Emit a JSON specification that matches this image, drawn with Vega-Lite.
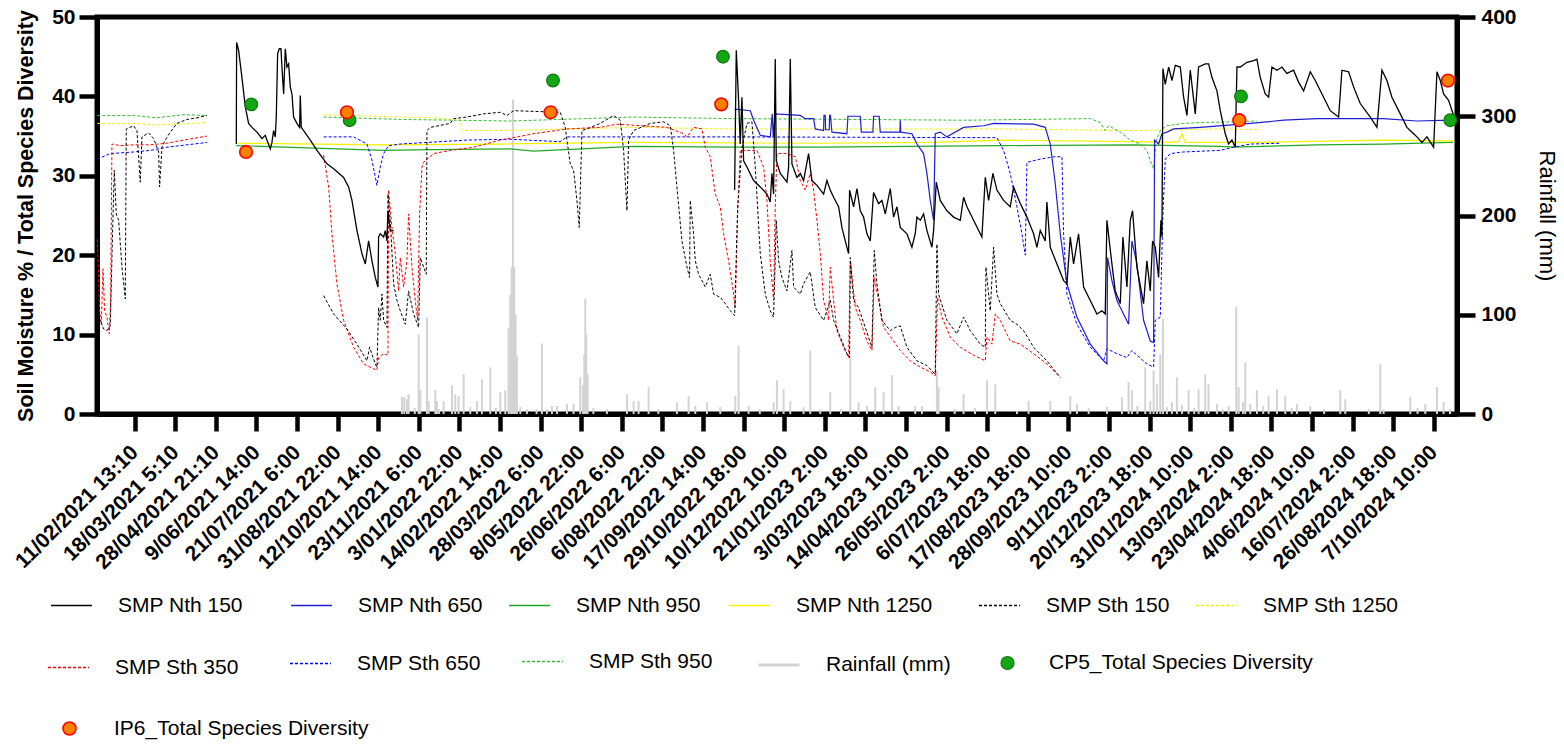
{
  "$schema": "https://vega.github.io/schema/vega-lite/v6.json",
  "width": 1360,
  "height": 397,
  "autosize": "none",
  "padding": {"left": 97, "top": 17, "right": 107, "bottom": 330},
  "background": "white",
  "config": {
    "font": "Liberation Sans",
    "view": {"stroke": "black", "strokeWidth": 5},
    "axis": {"domainColor": "black", "tickColor": "black", "labelColor": "black", "titleColor": "black", "grid": false, "labelFont": "Liberation Sans", "titleFont": "Liberation Sans"},
    "legend": {"labelFont": "Liberation Sans", "labelFontSize": 21, "labelLimit": 500, "labelColor": "black", "padding": 0, "labelOffset": 25, "symbolSize": 1681, "symbolStrokeWidth": 1.5, "title": null}
  },
  "datasets": {
    "nth150": [
      {"g":1,"i":2505,"v":34.0},{"g":1,"i":2513,"v":46.8},{"g":1,"i":2562,"v":45.8},{"g":1,"i":2644,"v":42.4},{"g":1,"i":2726,"v":38.7},{"g":1,"i":2808,"v":36.6},{"g":1,"i":2891,"v":36.1},{"g":1,"i":3014,"v":35.5},{"g":1,"i":3137,"v":34.7},{"g":1,"i":3219,"v":35.1},{"g":1,"i":3260,"v":34.5},{"g":1,"i":3342,"v":33.4},{"g":1,"i":3383,"v":34.2},{"g":1,"i":3424,"v":35.7},{"g":1,"i":3465,"v":34.9},{"g":1,"i":3490,"v":37.4},{"g":1,"i":3523,"v":45.4},{"g":1,"i":3564,"v":46.0},{"g":1,"i":3605,"v":46.0},{"g":1,"i":3629,"v":43.7},{"g":1,"i":3671,"v":40.3},{"g":1,"i":3712,"v":46.0},{"g":1,"i":3753,"v":43.7},{"g":1,"i":3794,"v":44.1},{"g":1,"i":3835,"v":41.2},{"g":1,"i":3876,"v":40.3},{"g":1,"i":3917,"v":37.4},{"g":1,"i":3999,"v":36.6},{"g":1,"i":4065,"v":36.1},{"g":1,"i":4081,"v":40.1},{"g":1,"i":4106,"v":36.1},{"g":1,"i":4163,"v":35.7},{"g":1,"i":4327,"v":34.5},{"g":1,"i":4492,"v":33.2},{"g":1,"i":4738,"v":31.5},{"g":1,"i":4902,"v":30.9},{"g":1,"i":5148,"v":29.8},{"g":1,"i":5271,"v":28.6},{"g":1,"i":5354,"v":26.9},{"g":1,"i":5477,"v":23.1},{"g":1,"i":5600,"v":20.2},{"g":1,"i":5682,"v":18.9},{"g":1,"i":5764,"v":21.8},{"g":1,"i":5846,"v":19.3},{"g":1,"i":5928,"v":17.2},{"g":1,"i":5994,"v":16.0},{"g":1,"i":6010,"v":22.3},{"g":1,"i":6051,"v":22.7},{"g":1,"i":6134,"v":22.3},{"g":1,"i":6175,"v":23.1},{"g":1,"i":6216,"v":21.8},{"g":1,"i":6240,"v":25.6},{"g":1,"i":6298,"v":23.1},{"g":1,"i":6380,"v":23.1},
      {"g":2,"i":14779,"v":28.2},{"g":2,"i":14820,"v":45.8},{"g":2,"i":14877,"v":39.5},{"g":2,"i":14918,"v":34.0},{"g":2,"i":14959,"v":39.9},{"g":2,"i":15000,"v":31.9},{"g":2,"i":15082,"v":31.1},{"g":2,"i":15247,"v":29.4},{"g":2,"i":15411,"v":28.6},{"g":2,"i":15575,"v":27.7},{"g":2,"i":15657,"v":26.7},{"g":2,"i":15698,"v":30.3},{"g":2,"i":15739,"v":27.7},{"g":2,"i":15780,"v":44.7},{"g":2,"i":15805,"v":31.9},{"g":2,"i":15903,"v":30.3},{"g":2,"i":16068,"v":29.2},{"g":2,"i":16109,"v":31.1},{"g":2,"i":16150,"v":44.7},{"g":2,"i":16191,"v":31.5},{"g":2,"i":16314,"v":29.8},{"g":2,"i":16396,"v":30.3},{"g":2,"i":16478,"v":29.4},{"g":2,"i":16601,"v":32.8},{"g":2,"i":16683,"v":29.4},{"g":2,"i":16807,"v":28.8},{"g":2,"i":16971,"v":27.7},{"g":2,"i":17053,"v":29.4},{"g":2,"i":17135,"v":28.2},{"g":2,"i":17217,"v":27.3},{"g":2,"i":17340,"v":26.1},{"g":2,"i":17422,"v":23.5},{"g":2,"i":17504,"v":21.8},{"g":2,"i":17586,"v":20.2},{"g":2,"i":17611,"v":28.2},{"g":2,"i":17710,"v":26.1},{"g":2,"i":17792,"v":28.4},{"g":2,"i":17874,"v":25.6},{"g":2,"i":17956,"v":24.8},{"g":2,"i":18038,"v":22.7},{"g":2,"i":18120,"v":21.8},{"g":2,"i":18202,"v":27.9},{"g":2,"i":18325,"v":26.5},{"g":2,"i":18407,"v":26.9},{"g":2,"i":18490,"v":25.2},{"g":2,"i":18613,"v":28.4},{"g":2,"i":18695,"v":24.8},{"g":2,"i":18777,"v":26.1},{"g":2,"i":18859,"v":23.5},{"g":2,"i":19023,"v":22.7},{"g":2,"i":19146,"v":21.0},{"g":2,"i":19228,"v":22.7},{"g":2,"i":19270,"v":24.8},{"g":2,"i":19352,"v":24.4},{"g":2,"i":19434,"v":25.2},{"g":2,"i":19516,"v":23.1},{"g":2,"i":19639,"v":21.0},{"g":2,"i":19680,"v":23.1},{"g":2,"i":19746,"v":29.2},{"g":2,"i":19844,"v":26.9},{"g":2,"i":20008,"v":25.6},{"g":2,"i":20173,"v":24.8},{"g":2,"i":20337,"v":24.4},{"g":2,"i":20419,"v":27.3},{"g":2,"i":20501,"v":26.1},{"g":2,"i":20665,"v":24.4},{"g":2,"i":20870,"v":22.3},{"g":2,"i":20953,"v":29.8},{"g":2,"i":21035,"v":26.9},{"g":2,"i":21141,"v":30.3},{"g":2,"i":21240,"v":28.2},{"g":2,"i":21404,"v":26.9},{"g":2,"i":21568,"v":26.1},{"g":2,"i":21650,"v":28.6},{"g":2,"i":21815,"v":26.5},{"g":2,"i":21979,"v":24.8},{"g":2,"i":22143,"v":22.7},{"g":2,"i":22225,"v":21.0},{"g":2,"i":22307,"v":23.1},{"g":2,"i":22430,"v":21.8},{"g":2,"i":22471,"v":26.7},{"g":2,"i":22554,"v":21.0},{"g":2,"i":22718,"v":18.9},{"g":2,"i":22882,"v":16.8},{"g":2,"i":22964,"v":16.4},{"g":2,"i":23046,"v":22.3},{"g":2,"i":23128,"v":18.9},{"g":2,"i":23251,"v":22.7},{"g":2,"i":23375,"v":16.0},{"g":2,"i":23539,"v":14.3},{"g":2,"i":23703,"v":12.6},{"g":2,"i":23826,"v":13.0},{"g":2,"i":23908,"v":12.6},{"g":2,"i":23949,"v":24.4},{"g":2,"i":24072,"v":18.9},{"g":2,"i":24154,"v":15.5},{"g":2,"i":24278,"v":13.9},{"g":2,"i":24343,"v":22.3},{"g":2,"i":24442,"v":16.0},{"g":2,"i":24524,"v":24.4},{"g":2,"i":24581,"v":25.6},{"g":2,"i":24688,"v":18.5},{"g":2,"i":24852,"v":13.9},{"g":2,"i":24934,"v":19.3},{"g":2,"i":25017,"v":15.5},{"g":2,"i":25074,"v":21.8},{"g":2,"i":25140,"v":21.0},{"g":2,"i":25222,"v":17.2},{"g":2,"i":25279,"v":24.4},{"g":2,"i":25304,"v":22.3},{"g":2,"i":25329,"v":43.5},{"g":2,"i":25386,"v":41.5},{"g":2,"i":25469,"v":43.7},{"g":2,"i":25551,"v":42.0},{"g":2,"i":25633,"v":43.9},{"g":2,"i":25756,"v":43.7},{"g":2,"i":25838,"v":39.9},{"g":2,"i":25920,"v":37.6},{"g":2,"i":26002,"v":43.3},{"g":2,"i":26125,"v":37.8},{"g":2,"i":26207,"v":43.7},{"g":2,"i":26372,"v":44.1},{"g":2,"i":26454,"v":44.1},{"g":2,"i":26536,"v":42.4},{"g":2,"i":26659,"v":40.7},{"g":2,"i":26741,"v":38.2},{"g":2,"i":26864,"v":35.3},{"g":2,"i":26946,"v":34.0},{"g":2,"i":27028,"v":34.5},{"g":2,"i":27111,"v":33.6},{"g":2,"i":27152,"v":43.7},{"g":2,"i":27234,"v":43.7},{"g":2,"i":27398,"v":44.3},{"g":2,"i":27562,"v":44.5},{"g":2,"i":27644,"v":44.7},{"g":2,"i":27726,"v":42.4},{"g":2,"i":27849,"v":40.3},{"g":2,"i":27931,"v":39.9},{"g":2,"i":28014,"v":43.7},{"g":2,"i":28137,"v":43.3},{"g":2,"i":28260,"v":43.7},{"g":2,"i":28383,"v":42.9},{"g":2,"i":28547,"v":43.3},{"g":2,"i":28670,"v":41.8},{"g":2,"i":28794,"v":40.7},{"g":2,"i":28958,"v":43.1},{"g":2,"i":29081,"v":42.0},{"g":2,"i":29286,"v":39.9},{"g":2,"i":29450,"v":38.2},{"g":2,"i":29656,"v":37.4},{"g":2,"i":29738,"v":43.3},{"g":2,"i":29902,"v":43.1},{"g":2,"i":30025,"v":41.2},{"g":2,"i":30189,"v":39.1},{"g":2,"i":30436,"v":37.4},{"g":2,"i":30600,"v":36.1},{"g":2,"i":30723,"v":43.3},{"g":2,"i":30846,"v":42.0},{"g":2,"i":30969,"v":39.9},{"g":2,"i":31175,"v":37.8},{"g":2,"i":31339,"v":36.1},{"g":2,"i":31503,"v":35.3},{"g":2,"i":31585,"v":34.9},{"g":2,"i":31708,"v":34.2},{"g":2,"i":31831,"v":34.9},{"g":2,"i":31996,"v":33.6},{"g":2,"i":32078,"v":43.1},{"g":2,"i":32160,"v":42.0},{"g":2,"i":32242,"v":40.3},{"g":2,"i":32365,"v":39.5},{"g":2,"i":32488,"v":37.6}
    ],
    "nth650": [
      {"g":1,"i":14779,"v":38.4},{"g":1,"i":15165,"v":38.2},{"g":1,"i":15247,"v":37.0},{"g":1,"i":15411,"v":35.1},{"g":1,"i":15657,"v":34.9},{"g":1,"i":15706,"v":37.8},{"g":1,"i":15731,"v":34.9},{"g":1,"i":15772,"v":37.8},{"g":1,"i":16396,"v":37.6},{"g":1,"i":16519,"v":37.2},{"g":1,"i":16724,"v":37.2},{"g":1,"i":16765,"v":35.9},{"g":1,"i":16971,"v":35.7},{"g":1,"i":16980,"v":37.6},{"g":1,"i":17012,"v":37.6},{"g":1,"i":17020,"v":35.8},{"g":1,"i":17110,"v":35.8},{"g":1,"i":17120,"v":37.6},{"g":1,"i":17140,"v":37.6},{"g":1,"i":17176,"v":35.5},{"g":1,"i":17545,"v":35.3},{"g":1,"i":17570,"v":37.5},{"g":1,"i":17874,"v":37.5},{"g":1,"i":17900,"v":35.5},{"g":1,"i":18185,"v":35.5},{"g":1,"i":18202,"v":37.5},{"g":1,"i":18340,"v":37.5},{"g":1,"i":18366,"v":35.5},{"g":1,"i":18850,"v":35.5},{"g":1,"i":18860,"v":37.0},{"g":1,"i":18870,"v":35.5},{"g":1,"i":19146,"v":35.3},{"g":1,"i":19270,"v":34.0},{"g":1,"i":19434,"v":32.8},{"g":1,"i":19516,"v":30.3},{"g":1,"i":19598,"v":26.9},{"g":1,"i":19680,"v":24.4},{"g":1,"i":19721,"v":35.3},{"g":1,"i":19844,"v":35.5},{"g":1,"i":20008,"v":34.9},{"g":1,"i":20419,"v":36.1},{"g":1,"i":20912,"v":36.3},{"g":1,"i":21158,"v":36.6},{"g":1,"i":22143,"v":36.5},{"g":1,"i":22430,"v":36.1},{"g":1,"i":22554,"v":34.0},{"g":1,"i":22677,"v":29.0},{"g":1,"i":22800,"v":22.7},{"g":1,"i":22964,"v":16.4},{"g":1,"i":23210,"v":12.2},{"g":1,"i":23539,"v":8.8},{"g":1,"i":23867,"v":6.7},{"g":1,"i":23949,"v":6.3},{"g":1,"i":23966,"v":19.7},{"g":1,"i":24072,"v":16.8},{"g":1,"i":24196,"v":14.3},{"g":1,"i":24319,"v":13.0},{"g":1,"i":24483,"v":11.3},{"g":1,"i":24565,"v":21.8},{"g":1,"i":24688,"v":18.9},{"g":1,"i":24852,"v":11.8},{"g":1,"i":25017,"v":9.2},{"g":1,"i":25099,"v":9.0},{"g":1,"i":25123,"v":34.5},{"g":1,"i":25222,"v":34.0},{"g":1,"i":25304,"v":35.3},{"g":1,"i":25427,"v":35.5},{"g":1,"i":25591,"v":35.9},{"g":1,"i":26248,"v":36.1},{"g":1,"i":27480,"v":36.6},{"g":1,"i":28301,"v":37.0},{"g":1,"i":29122,"v":37.2},{"g":1,"i":30764,"v":37.2},{"g":1,"i":31585,"v":36.9},{"g":1,"i":32406,"v":37.0},{"g":1,"i":32480,"v":36.9}
    ],
    "nth950": [
      {"g":1,"i":2505,"v":33.8},{"g":1,"i":6134,"v":33.2},{"g":1,"i":7365,"v":33.3},{"g":1,"i":9253,"v":33.4},{"g":1,"i":9828,"v":33.1},{"g":1,"i":12291,"v":33.7},{"g":1,"i":14754,"v":33.6},{"g":1,"i":16889,"v":33.6},{"g":1,"i":21322,"v":33.8},{"g":1,"i":24606,"v":33.9},{"g":1,"i":26741,"v":33.7},{"g":1,"i":27070,"v":33.6},{"g":1,"i":29122,"v":33.9},{"g":1,"i":30764,"v":34.0},{"g":1,"i":32406,"v":34.2},{"g":1,"i":32480,"v":34.2}
    ],
    "nth1250": [
      {"g":1,"i":2505,"v":34.1},{"g":1,"i":6134,"v":33.9},{"g":1,"i":9007,"v":34.0},{"g":1,"i":12291,"v":34.2},{"g":1,"i":16889,"v":34.1},{"g":1,"i":19680,"v":34.2},{"g":1,"i":21322,"v":34.5},{"g":1,"i":24606,"v":34.3},{"g":1,"i":25510,"v":34.2},{"g":1,"i":25715,"v":34.3},{"g":1,"i":25797,"v":35.3},{"g":1,"i":25879,"v":34.2},{"g":1,"i":27480,"v":34.2},{"g":1,"i":30764,"v":34.5},{"g":1,"i":32406,"v":34.4},{"g":1,"i":32480,"v":34.4}
    ],
    "sth150": [
      {"g":1,"i":-919,"v":10.9},{"g":1,"i":-845,"v":11.8},{"g":1,"i":-763,"v":10.7},{"g":1,"i":-681,"v":10.5},{"g":1,"i":-599,"v":11.1},{"g":1,"i":-533,"v":24.8},{"g":1,"i":-500,"v":30.7},{"g":1,"i":-451,"v":25.2},{"g":1,"i":-393,"v":24.4},{"g":1,"i":-311,"v":18.5},{"g":1,"i":-229,"v":14.5},{"g":1,"i":-205,"v":35.9},{"g":1,"i":-24,"v":36.3},{"g":1,"i":58,"v":35.7},{"g":1,"i":140,"v":29.2},{"g":1,"i":181,"v":34.9},{"g":1,"i":345,"v":35.4},{"g":1,"i":469,"v":34.7},{"g":1,"i":592,"v":33.0},{"g":1,"i":616,"v":28.6},{"g":1,"i":674,"v":33.6},{"g":1,"i":756,"v":34.5},{"g":1,"i":879,"v":35.5},{"g":1,"i":1043,"v":36.6},{"g":1,"i":1290,"v":37.1},{"g":1,"i":1536,"v":37.3},{"g":1,"i":1782,"v":37.6},
      {"g":2,"i":4656,"v":14.9},{"g":2,"i":4902,"v":12.6},{"g":2,"i":5230,"v":10.7},{"g":2,"i":5477,"v":8.8},{"g":2,"i":5723,"v":6.7},{"g":2,"i":5789,"v":8.4},{"g":2,"i":5928,"v":6.3},{"g":2,"i":5969,"v":5.9},{"g":2,"i":6010,"v":13.4},{"g":2,"i":6051,"v":11.8},{"g":2,"i":6092,"v":15.1},{"g":2,"i":6134,"v":11.8},{"g":2,"i":6216,"v":10.9},{"g":2,"i":6240,"v":27.7},{"g":2,"i":6298,"v":24.4},{"g":2,"i":6380,"v":16.4},{"g":2,"i":6462,"v":14.3},{"g":2,"i":6544,"v":13.0},{"g":2,"i":6667,"v":11.3},{"g":2,"i":6749,"v":15.5},{"g":2,"i":6872,"v":12.6},{"g":2,"i":6996,"v":10.9},{"g":2,"i":7037,"v":19.7},{"g":2,"i":7119,"v":18.5},{"g":2,"i":7184,"v":17.6},{"g":2,"i":7201,"v":35.7},{"g":2,"i":7283,"v":36.1},{"g":2,"i":7776,"v":36.6},{"g":2,"i":7858,"v":37.2},{"g":2,"i":8186,"v":37.4},{"g":2,"i":8597,"v":37.8},{"g":2,"i":9007,"v":38.0},{"g":2,"i":9171,"v":37.6},{"g":2,"i":9335,"v":38.2},{"g":2,"i":10485,"v":38.0},{"g":2,"i":10608,"v":36.1},{"g":2,"i":10649,"v":34.5},{"g":2,"i":10731,"v":31.5},{"g":2,"i":10813,"v":30.7},{"g":2,"i":10895,"v":26.9},{"g":2,"i":10953,"v":23.5},{"g":2,"i":11018,"v":35.7},{"g":2,"i":11142,"v":35.9},{"g":2,"i":11470,"v":36.6},{"g":2,"i":11798,"v":37.6},{"g":2,"i":11962,"v":37.0},{"g":2,"i":12045,"v":33.2},{"g":2,"i":12127,"v":25.6},{"g":2,"i":12168,"v":34.5},{"g":2,"i":12291,"v":35.7},{"g":2,"i":12702,"v":36.6},{"g":2,"i":13030,"v":36.8},{"g":2,"i":13194,"v":36.3},{"g":2,"i":13276,"v":33.2},{"g":2,"i":13358,"v":28.6},{"g":2,"i":13481,"v":21.8},{"g":2,"i":13605,"v":18.5},{"g":2,"i":13670,"v":17.2},{"g":2,"i":13687,"v":26.9},{"g":2,"i":13769,"v":22.7},{"g":2,"i":13810,"v":19.3},{"g":2,"i":13892,"v":17.6},{"g":2,"i":14056,"v":16.0},{"g":2,"i":14179,"v":17.6},{"g":2,"i":14262,"v":15.1},{"g":2,"i":14426,"v":14.7},{"g":2,"i":14549,"v":13.9},{"g":2,"i":14672,"v":13.0},{"g":2,"i":14779,"v":12.4},{"g":2,"i":14853,"v":26.0},{"g":2,"i":14959,"v":33.5},{"g":2,"i":15082,"v":36.6},{"g":2,"i":15206,"v":36.8},{"g":2,"i":15288,"v":31.1},{"g":2,"i":15411,"v":20.2},{"g":2,"i":15534,"v":15.1},{"g":2,"i":15657,"v":13.0},{"g":2,"i":15739,"v":12.2},{"g":2,"i":15805,"v":24.4},{"g":2,"i":15862,"v":19.3},{"g":2,"i":15944,"v":17.2},{"g":2,"i":16068,"v":15.5},{"g":2,"i":16191,"v":20.6},{"g":2,"i":16232,"v":16.0},{"g":2,"i":16396,"v":15.1},{"g":2,"i":16478,"v":16.4},{"g":2,"i":16642,"v":17.9},{"g":2,"i":16766,"v":13.4},{"g":2,"i":16971,"v":11.8},{"g":2,"i":17053,"v":13.0},{"g":2,"i":17135,"v":14.3},{"g":2,"i":17217,"v":11.8},{"g":2,"i":17381,"v":9.7},{"g":2,"i":17545,"v":7.6},{"g":2,"i":17611,"v":7.1},{"g":2,"i":17628,"v":19.7},{"g":2,"i":17710,"v":14.3},{"g":2,"i":17833,"v":13.4},{"g":2,"i":17997,"v":10.9},{"g":2,"i":18161,"v":8.4},{"g":2,"i":18219,"v":20.6},{"g":2,"i":18284,"v":16.4},{"g":2,"i":18407,"v":11.8},{"g":2,"i":18613,"v":10.5},{"g":2,"i":18736,"v":10.9},{"g":2,"i":18859,"v":11.1},{"g":2,"i":19023,"v":8.4},{"g":2,"i":19270,"v":6.7},{"g":2,"i":19516,"v":6.1},{"g":2,"i":19721,"v":5.0},{"g":2,"i":19762,"v":21.4},{"g":2,"i":19803,"v":15.1},{"g":2,"i":20008,"v":11.8},{"g":2,"i":20255,"v":10.1},{"g":2,"i":20419,"v":12.2},{"g":2,"i":20583,"v":10.5},{"g":2,"i":20829,"v":8.8},{"g":2,"i":20953,"v":8.4},{"g":2,"i":20969,"v":18.5},{"g":2,"i":21076,"v":13.0},{"g":2,"i":21158,"v":21.0},{"g":2,"i":21240,"v":15.1},{"g":2,"i":21322,"v":13.9},{"g":2,"i":21568,"v":11.8},{"g":2,"i":21733,"v":11.3},{"g":2,"i":21897,"v":10.5},{"g":2,"i":22143,"v":8.4},{"g":2,"i":22471,"v":6.7},{"g":2,"i":22800,"v":4.6}
    ],
    "sth350": [
      {"g":1,"i":-919,"v":22.0},{"g":1,"i":-894,"v":18.5},{"g":1,"i":-861,"v":13.0},{"g":1,"i":-820,"v":11.3},{"g":1,"i":-779,"v":18.3},{"g":1,"i":-738,"v":13.0},{"g":1,"i":-681,"v":12.2},{"g":1,"i":-623,"v":10.1},{"g":1,"i":-590,"v":14.3},{"g":1,"i":-558,"v":34.0},{"g":1,"i":-352,"v":33.8},{"g":1,"i":-24,"v":33.9},{"g":1,"i":387,"v":33.9},{"g":1,"i":797,"v":34.1},{"g":1,"i":1208,"v":34.5},{"g":1,"i":1782,"v":35.0},
      {"g":2,"i":4656,"v":32.6},{"g":2,"i":4779,"v":28.6},{"g":2,"i":4861,"v":22.7},{"g":2,"i":4984,"v":16.4},{"g":2,"i":5148,"v":11.8},{"g":2,"i":5395,"v":8.4},{"g":2,"i":5641,"v":6.3},{"g":2,"i":5969,"v":5.5},{"g":2,"i":6010,"v":7.1},{"g":2,"i":6134,"v":7.6},{"g":2,"i":6240,"v":7.4},{"g":2,"i":6257,"v":28.2},{"g":2,"i":6339,"v":23.5},{"g":2,"i":6421,"v":20.2},{"g":2,"i":6503,"v":15.5},{"g":2,"i":6544,"v":19.7},{"g":2,"i":6626,"v":16.0},{"g":2,"i":6708,"v":19.3},{"g":2,"i":6749,"v":25.2},{"g":2,"i":6831,"v":18.5},{"g":2,"i":6913,"v":14.3},{"g":2,"i":6971,"v":11.8},{"g":2,"i":7020,"v":25.2},{"g":2,"i":7078,"v":31.1},{"g":2,"i":7119,"v":31.7},{"g":2,"i":7365,"v":32.8},{"g":2,"i":7776,"v":33.2},{"g":2,"i":8350,"v":33.6},{"g":2,"i":9007,"v":34.5},{"g":2,"i":9828,"v":35.3},{"g":2,"i":10649,"v":35.9},{"g":2,"i":11470,"v":36.1},{"g":2,"i":11881,"v":36.5},{"g":2,"i":13112,"v":36.1},{"g":2,"i":13523,"v":35.3},{"g":2,"i":13605,"v":34.9},{"g":2,"i":13769,"v":36.1},{"g":2,"i":13974,"v":35.9},{"g":2,"i":14056,"v":33.6},{"g":2,"i":14179,"v":32.4},{"g":2,"i":14302,"v":27.7},{"g":2,"i":14426,"v":26.1},{"g":2,"i":14508,"v":22.7},{"g":2,"i":14631,"v":19.3},{"g":2,"i":14754,"v":15.1},{"g":2,"i":14795,"v":13.4},{"g":2,"i":14853,"v":25.0},{"g":2,"i":14918,"v":33.2},{"g":2,"i":15329,"v":33.2},{"g":2,"i":15493,"v":31.1},{"g":2,"i":15575,"v":26.9},{"g":2,"i":15657,"v":19.3},{"g":2,"i":15739,"v":14.3},{"g":2,"i":15780,"v":26.1},{"g":2,"i":15821,"v":32.8},{"g":2,"i":16068,"v":32.8},{"g":2,"i":16273,"v":32.4},{"g":2,"i":16396,"v":29.4},{"g":2,"i":16519,"v":28.2},{"g":2,"i":16642,"v":30.3},{"g":2,"i":16724,"v":28.2},{"g":2,"i":16807,"v":24.4},{"g":2,"i":16889,"v":20.2},{"g":2,"i":16971,"v":14.3},{"g":2,"i":17094,"v":11.8},{"g":2,"i":17135,"v":18.5},{"g":2,"i":17217,"v":14.3},{"g":2,"i":17299,"v":10.5},{"g":2,"i":17463,"v":8.4},{"g":2,"i":17586,"v":7.1},{"g":2,"i":17628,"v":19.3},{"g":2,"i":17751,"v":13.4},{"g":2,"i":17874,"v":11.8},{"g":2,"i":18038,"v":9.2},{"g":2,"i":18161,"v":8.0},{"g":2,"i":18219,"v":17.2},{"g":2,"i":18325,"v":14.3},{"g":2,"i":18449,"v":10.9},{"g":2,"i":18695,"v":9.2},{"g":2,"i":18859,"v":8.0},{"g":2,"i":19105,"v":6.7},{"g":2,"i":19352,"v":5.9},{"g":2,"i":19598,"v":5.3},{"g":2,"i":19721,"v":4.8},{"g":2,"i":19779,"v":14.7},{"g":2,"i":19885,"v":12.2},{"g":2,"i":20091,"v":9.7},{"g":2,"i":20337,"v":8.4},{"g":2,"i":20665,"v":7.4},{"g":2,"i":20953,"v":6.7},{"g":2,"i":20994,"v":9.7},{"g":2,"i":21117,"v":8.8},{"g":2,"i":21199,"v":12.6},{"g":2,"i":21322,"v":11.8},{"g":2,"i":21568,"v":9.2},{"g":2,"i":21815,"v":8.8},{"g":2,"i":22143,"v":7.6},{"g":2,"i":22471,"v":6.3},{"g":2,"i":22800,"v":4.6}
    ],
    "sth650": [
      {"g":1,"i":-919,"v":32.1},{"g":1,"i":-599,"v":32.8},{"g":1,"i":-24,"v":33.0},{"g":1,"i":387,"v":33.2},{"g":1,"i":797,"v":33.6},{"g":1,"i":1782,"v":34.2},
      {"g":2,"i":4656,"v":34.9},{"g":2,"i":5395,"v":34.9},{"g":2,"i":5723,"v":34.0},{"g":2,"i":5846,"v":32.0},{"g":2,"i":5969,"v":28.8},{"g":2,"i":6051,"v":31.1},{"g":2,"i":6134,"v":32.8},{"g":2,"i":6257,"v":33.8},{"g":2,"i":6544,"v":34.0},{"g":2,"i":7201,"v":34.2},{"g":2,"i":8186,"v":34.5},{"g":2,"i":9253,"v":34.6},{"g":2,"i":10485,"v":34.3},{"g":2,"i":10649,"v":34.9},{"g":2,"i":14754,"v":34.9},{"g":2,"i":21240,"v":34.8},{"g":2,"i":21404,"v":33.2},{"g":2,"i":21568,"v":30.3},{"g":2,"i":21733,"v":26.1},{"g":2,"i":21856,"v":22.7},{"g":2,"i":21938,"v":20.0},{"g":2,"i":21979,"v":31.7},{"g":2,"i":22307,"v":32.1},{"g":2,"i":22636,"v":32.4},{"g":2,"i":22841,"v":32.4},{"g":2,"i":22882,"v":22.7},{"g":2,"i":22964,"v":15.1},{"g":2,"i":23210,"v":11.3},{"g":2,"i":23539,"v":8.4},{"g":2,"i":23867,"v":6.7},{"g":2,"i":23949,"v":8.2},{"g":2,"i":24196,"v":7.6},{"g":2,"i":24442,"v":7.1},{"g":2,"i":24565,"v":8.0},{"g":2,"i":24688,"v":7.4},{"g":2,"i":24934,"v":6.3},{"g":2,"i":25099,"v":5.9},{"g":2,"i":25140,"v":11.8},{"g":2,"i":25263,"v":12.2},{"g":2,"i":25329,"v":25.2},{"g":2,"i":25386,"v":32.1},{"g":2,"i":25509,"v":32.8},{"g":2,"i":25837,"v":33.0},{"g":2,"i":26741,"v":33.2},{"g":2,"i":27070,"v":33.6},{"g":2,"i":27480,"v":34.0},{"g":2,"i":28219,"v":34.1}
    ],
    "sth950": [
      {"g":1,"i":-919,"v":37.6},{"g":1,"i":-24,"v":37.6},{"g":1,"i":551,"v":37.3},{"g":1,"i":1208,"v":37.7},{"g":1,"i":1782,"v":37.6},
      {"g":2,"i":4656,"v":37.4},{"g":2,"i":6544,"v":37.1},{"g":2,"i":9253,"v":36.9},{"g":2,"i":12291,"v":37.4},{"g":2,"i":14754,"v":37.2},{"g":2,"i":20501,"v":37.0},{"g":2,"i":23539,"v":37.2},{"g":2,"i":23785,"v":36.7},{"g":2,"i":23908,"v":35.7},{"g":2,"i":23990,"v":36.3},{"g":2,"i":24278,"v":35.5},{"g":2,"i":24524,"v":34.5},{"g":2,"i":24770,"v":34.0},{"g":2,"i":24934,"v":33.2},{"g":2,"i":25017,"v":31.9},{"g":2,"i":25099,"v":30.9},{"g":2,"i":25164,"v":34.5},{"g":2,"i":25263,"v":35.7},{"g":2,"i":25427,"v":36.3},{"g":2,"i":25837,"v":36.6},{"g":2,"i":26249,"v":36.7},{"g":2,"i":27070,"v":36.8},{"g":2,"i":27644,"v":36.9}
    ],
    "sth1250": [
      {"g":1,"i":-919,"v":36.6},{"g":1,"i":-24,"v":36.6},{"g":1,"i":551,"v":36.4},{"g":1,"i":1782,"v":36.7},
      {"g":2,"i":4656,"v":37.7},{"g":2,"i":6544,"v":37.4},{"g":2,"i":7365,"v":37.3},{"g":2,"i":8022,"v":37.0},{"g":2,"i":8063,"v":35.7},{"g":2,"i":9007,"v":35.7},{"g":2,"i":12291,"v":36.1},{"g":2,"i":14754,"v":35.9},{"g":2,"i":21322,"v":35.9},{"g":2,"i":24606,"v":35.7},{"g":2,"i":26741,"v":35.9},{"g":2,"i":27644,"v":35.8}
    ],
    "rain": [
      {"i":6585,"r":17},{"i":6643,"r":17},{"i":6708,"r":15},{"i":6749,"r":20},{"i":6900,"r":6},{"i":6996,"r":80},{"i":7037,"r":24},{"i":7201,"r":97},{"i":7242,"r":13},{"i":7406,"r":24},{"i":7447,"r":13},{"i":7500,"r":5},{"i":7611,"r":13},{"i":7817,"r":29},{"i":7899,"r":20},{"i":7981,"r":18},{"i":8104,"r":40},{"i":8268,"r":7},{"i":8432,"r":13},{"i":8555,"r":35},{"i":8761,"r":47},{"i":8900,"r":6},{"i":9007,"r":22},{"i":9130,"r":24},{"i":9212,"r":87},{"i":9253,"r":120},{"i":9286,"r":148},{"i":9319,"r":317},{"i":9352,"r":148},{"i":9385,"r":100},{"i":9417,"r":59},{"i":9500,"r":7},{"i":9664,"r":5},{"i":9900,"r":5},{"i":10033,"r":71},{"i":10156,"r":5},{"i":10280,"r":8},{"i":10403,"r":8},{"i":10649,"r":10},{"i":10813,"r":10},{"i":10977,"r":37},{"i":11043,"r":29},{"i":11076,"r":60},{"i":11101,"r":116},{"i":11125,"r":80},{"i":11158,"r":40},{"i":11300,"r":6},{"i":11634,"r":5},{"i":12127,"r":20},{"i":12291,"r":13},{"i":12414,"r":13},{"i":12661,"r":27},{"i":12900,"r":5},{"i":13358,"r":12},{"i":13646,"r":18},{"i":13810,"r":8},{"i":14097,"r":12},{"i":14426,"r":7},{"i":14795,"r":18},{"i":14877,"r":69},{"i":15124,"r":8},{"i":15400,"r":5},{"i":15739,"r":12},{"i":15821,"r":34},{"i":15985,"r":25},{"i":16150,"r":13},{"i":16478,"r":7},{"i":16642,"r":64},{"i":16889,"r":5},{"i":17135,"r":22},{"i":17400,"r":5},{"i":17628,"r":57},{"i":17833,"r":12},{"i":18038,"r":8},{"i":18243,"r":27},{"i":18449,"r":22},{"i":18654,"r":39},{"i":18818,"r":8},{"i":19228,"r":8},{"i":19393,"r":8},{"i":19762,"r":44},{"i":19803,"r":27},{"i":20200,"r":5},{"i":20419,"r":20},{"i":20700,"r":6},{"i":20994,"r":34},{"i":21199,"r":30},{"i":21733,"r":3},{"i":22020,"r":13},{"i":22554,"r":13},{"i":23046,"r":18},{"i":23210,"r":10},{"i":23500,"r":6},{"i":23949,"r":7},{"i":24319,"r":17},{"i":24483,"r":32},{"i":24565,"r":24},{"i":24700,"r":8},{"i":24893,"r":47},{"i":25017,"r":13},{"i":25099,"r":44},{"i":25181,"r":30},{"i":25263,"r":60},{"i":25329,"r":96},{"i":25427,"r":7},{"i":25550,"r":12},{"i":25673,"r":37},{"i":25800,"r":9},{"i":25960,"r":24},{"i":26100,"r":6},{"i":26207,"r":25},{"i":26371,"r":40},{"i":26453,"r":30},{"i":26659,"r":10},{"i":26800,"r":5},{"i":26946,"r":8},{"i":27135,"r":108},{"i":27193,"r":27},{"i":27300,"r":12},{"i":27357,"r":52},{"i":27480,"r":10},{"i":27644,"r":24},{"i":27800,"r":8},{"i":27931,"r":18},{"i":28137,"r":25},{"i":28342,"r":18},{"i":28500,"r":6},{"i":28629,"r":10},{"i":28958,"r":8},{"i":29300,"r":5},{"i":29697,"r":24},{"i":29820,"r":15},{"i":30400,"r":5},{"i":30682,"r":50},{"i":30764,"r":5},{"i":31421,"r":17},{"i":31600,"r":6},{"i":31790,"r":10},{"i":32078,"r":27},{"i":32242,"r":12},{"i":32400,"r":5}
    ],
    "cp5": [
      {"i":2874,"v":39},{"i":5296,"v":37},{"i":10305,"v":42},{"i":14492,"v":45},{"i":27251,"v":40},{"i":32406,"v":37}
    ],
    "ip6": [
      {"i":2744,"v":33},{"i":5231,"v":38},{"i":10246,"v":38},{"i":14450,"v":39},{"i":27209,"v":37},{"i":32349,"v":42}
    ]
  },
  "encoding": {
    "x": {
      "field": "i",
      "type": "quantitative",
      "scale": {"domain": [-926, 32572], "nice": false, "zero": false},
      "axis": {
        "title": null,
        "values": [0,1000,2000,3000,4000,5000,6000,7000,8000,9000,10000,11000,12000,13000,14000,15000,16000,17000,18000,19000,20000,21000,22000,23000,24000,25000,26000,27000,28000,29000,30000,31000,32000],
        "labelExpr": "['11/02/2021 13:10','18/03/2021 5:10','28/04/2021 21:10','9/06/2021 14:00','21/07/2021 6:00','31/08/2021 22:00','12/10/2021 14:00','23/11/2021 6:00','3/01/2022 22:00','14/02/2022 14:00','28/03/2022 6:00','8/05/2022 22:00','26/06/2022 6:00','6/08/2022 22:00','17/09/2022 14:00','29/10/2022 18:00','10/12/2022 10:00','21/01/2023 2:00','3/03/2023 18:00','14/04/2023 10:00','26/05/2023 2:00','6/07/2023 18:00','17/08/2023 18:00','28/09/2023 10:00','9/11/2023 2:00','20/12/2023 18:00','31/01/2024 10:00','13/03/2024 2:00','23/04/2024 18:00','4/06/2024 10:00','16/07/2024 2:00','26/08/2024 18:00','7/10/2024 10:00'][round(datum.value / 1000)]",
        "labelAngle": -45,
        "labelAlign": "right",
        "labelBaseline": "middle",
        "labelPadding": 18,
        "labelFontSize": 21,
        "labelFontWeight": "bold",
        "labelOverlap": false,
        "labelFlush": false,
        "tickSize": 17,
        "tickWidth": 4.5,
        "domainWidth": 5
      }
    }
  },
  "layer": [
    {
      "data": {"name": "rain"},
      "mark": {"type": "rule", "strokeWidth": 2},
      "encoding": {
        "y": {
          "field": "r",
          "type": "quantitative",
          "scale": {"domain": [0, 400], "nice": false},
          "axis": {"orient": "right", "title": "Rainfall (mm)", "values": [0,100,200,300,400], "labelFontSize": 21, "labelFontWeight": "bold", "labelPadding": 6, "tickSize": 18, "tickWidth": 4.5, "domainWidth": 5, "titleFontSize": 22, "titleFontWeight": "normal", "titleAngle": 90, "titlePadding": 18}
        },
        "y2": {"datum": 0},
        "color": {"datum": "Rainfall (mm)", "scale": {"range": ["#d3d3d3"]}, "legend": {"orient": "none", "legendX": 660, "legendY": 626, "symbolStrokeWidth": 3}}
      }
    },
    {
      "encoding": {
        "y": {
          "field": "v",
          "type": "quantitative",
          "scale": {"domain": [0, 50], "nice": false},
          "axis": {"orient": "left", "title": "Soil Moisture % / Total Species Diversity", "values": [0,10,20,30,40,50], "labelFontSize": 21, "labelFontWeight": "bold", "labelPadding": 4, "tickSize": 18, "tickWidth": 4.5, "domainWidth": 5, "titleFontSize": 21.5, "titleFontWeight": "bold", "titlePadding": 14}
        }
      },
      "layer": [
        {"data": {"name": "nth950"}, "mark": {"type": "line", "strokeWidth": 1.2}, "encoding": {"detail": {"field": "g", "type": "nominal"}, "color": {"datum": "SMP Nth 950", "scale": {"range": ["#22a822"]}, "legend": {"orient": "none", "legendX": 411, "legendY": 567}}}},
        {"data": {"name": "nth1250"}, "mark": {"type": "line", "strokeWidth": 1.2}, "encoding": {"detail": {"field": "g", "type": "nominal"}, "color": {"datum": "SMP Nth 1250", "scale": {"range": ["#f2f200"]}, "legend": {"orient": "none", "legendX": 631, "legendY": 567}}}},
        {"data": {"name": "sth1250"}, "mark": {"type": "line", "strokeWidth": 1, "strokeDash": [3, 2]}, "encoding": {"detail": {"field": "g", "type": "nominal"}, "color": {"datum": "SMP Sth 1250", "scale": {"range": ["#f2f200"]}, "legend": {"orient": "none", "legendX": 1098, "legendY": 567, "symbolDash": [3, 2]}}}},
        {"data": {"name": "sth950"}, "mark": {"type": "line", "strokeWidth": 1, "strokeDash": [3, 2]}, "encoding": {"detail": {"field": "g", "type": "nominal"}, "color": {"datum": "SMP Sth 950", "scale": {"range": ["#33bb33"]}, "legend": {"orient": "none", "legendX": 424, "legendY": 623, "symbolDash": [3, 2]}}}},
        {"data": {"name": "sth650"}, "mark": {"type": "line", "strokeWidth": 1, "strokeDash": [3, 2]}, "encoding": {"detail": {"field": "g", "type": "nominal"}, "color": {"datum": "SMP Sth 650", "scale": {"range": ["#0000ff"]}, "legend": {"orient": "none", "legendX": 192, "legendY": 625, "symbolDash": [3, 2]}}}},
        {"data": {"name": "sth350"}, "mark": {"type": "line", "strokeWidth": 1, "strokeDash": [3, 2]}, "encoding": {"detail": {"field": "g", "type": "nominal"}, "color": {"datum": "SMP Sth 350", "scale": {"range": ["#ff0000"]}, "legend": {"orient": "none", "legendX": -50, "legendY": 629, "symbolDash": [3, 2]}}}},
        {"data": {"name": "sth150"}, "mark": {"type": "line", "strokeWidth": 1, "strokeDash": [3, 2]}, "encoding": {"detail": {"field": "g", "type": "nominal"}, "color": {"datum": "SMP Sth 150", "scale": {"range": ["#000000"]}, "legend": {"orient": "none", "legendX": 881, "legendY": 567, "symbolDash": [3, 2]}}}},
        {"data": {"name": "nth650"}, "mark": {"type": "line", "strokeWidth": 1.2}, "encoding": {"detail": {"field": "g", "type": "nominal"}, "color": {"datum": "SMP Nth 650", "scale": {"range": ["#1f1fcf"]}, "legend": {"orient": "none", "legendX": 193, "legendY": 567}}}},
        {"data": {"name": "nth150"}, "mark": {"type": "line", "strokeWidth": 1.3}, "encoding": {"detail": {"field": "g", "type": "nominal"}, "color": {"datum": "SMP Nth 150", "scale": {"range": ["#000000"]}, "legend": {"orient": "none", "legendX": -47, "legendY": 567}}}},
        {"data": {"name": "cp5"}, "mark": {"type": "circle", "size": 160, "opacity": 1, "stroke": "#0a7a0a", "strokeWidth": 1.2}, "encoding": {"color": {"datum": "CP5_Total Species Diversity", "scale": {"range": ["#14a614"]}, "legend": {"orient": "none", "legendX": 900, "legendY": 635.5, "symbolSize": 169, "labelOffset": 31, "symbolStrokeColor": "#0a7a0a", "symbolStrokeWidth": 1.2}}}},
        {"data": {"name": "ip6"}, "mark": {"type": "circle", "size": 160, "opacity": 1, "stroke": "#ff0000", "strokeWidth": 1.6}, "encoding": {"color": {"datum": "IP6_Total Species Diversity", "scale": {"range": ["#ff8000"]}, "legend": {"orient": "none", "legendX": -38, "legendY": 701, "symbolSize": 169, "labelOffset": 34, "symbolStrokeColor": "#ff0000", "symbolStrokeWidth": 1.6}}}}
      ],
      "resolve": {"scale": {"color": "independent"}}
    }
  ],
  "resolve": {"scale": {"y": "independent", "color": "independent"}}
}
